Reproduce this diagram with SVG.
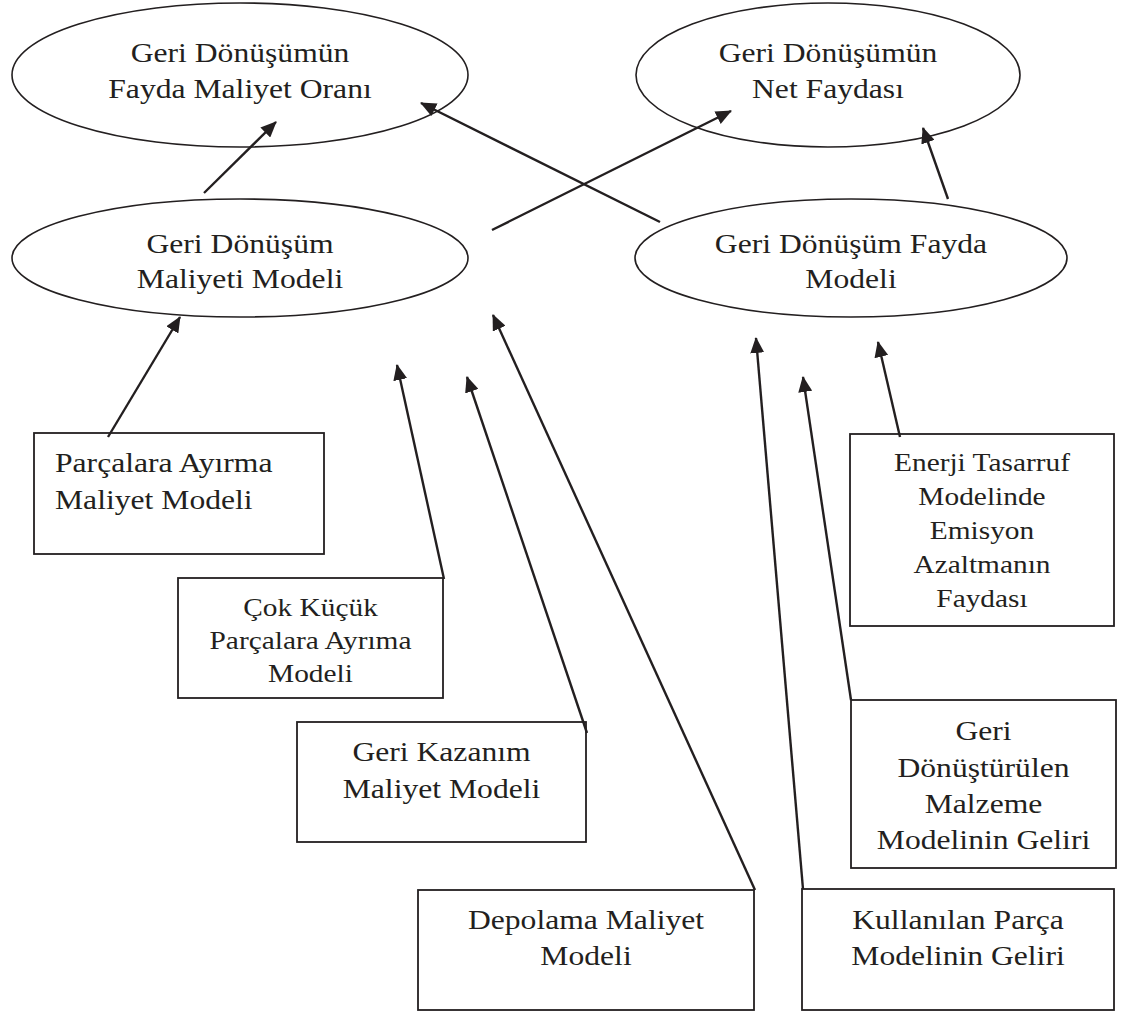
<svg xmlns="http://www.w3.org/2000/svg" width="1138" height="1014" viewBox="0 0 1138 1014">
<style>
.ell{fill:#fff;stroke:#231f20;stroke-width:1.6}
.box{fill:#fff;stroke:#231f20;stroke-width:1.8}
.t{font-family:"Liberation Serif","Times New Roman",serif;font-size:28px;fill:#231f20;text-anchor:middle}
.s{font-size:26px}
.l{text-anchor:start}
.c line{stroke:#231f20;stroke-width:2.4;marker-end:url(#ah)}
</style>
<defs>
<marker id="ah" markerUnits="userSpaceOnUse" markerWidth="16" markerHeight="14" viewBox="0 0 16 14" refX="15" refY="7" orient="auto">
<path d="M0,0 L16,7 L0,14 z" fill="#231f20"/>
</marker>
</defs>
<rect width="1138" height="1014" fill="#fff"/>

<g id="n-oran">
<ellipse class="ell" cx="240" cy="75" rx="228" ry="72"/>
<text class="t" transform="matrix(1.13 0 0 1 240 0)"><tspan x="0" y="62">Geri Dönüşümün</tspan><tspan x="0" y="98">Fayda Maliyet Oranı</tspan></text>
</g>
<g id="n-net">
<ellipse class="ell" cx="828" cy="75" rx="192" ry="72"/>
<text class="t" transform="matrix(1.13 0 0 1 828 0)"><tspan x="0" y="62">Geri Dönüşümün</tspan><tspan x="0" y="98">Net Faydası</tspan></text>
</g>
<g id="n-maliyet">
<ellipse class="ell" cx="240" cy="258" rx="228" ry="59"/>
<text class="t" transform="matrix(1.13 0 0 1 240 0)"><tspan x="0" y="253">Geri Dönüşüm</tspan><tspan x="0" y="288">Maliyeti Modeli</tspan></text>
</g>
<g id="n-fayda">
<ellipse class="ell" cx="851" cy="258" rx="216" ry="59"/>
<text class="t" transform="matrix(1.13 0 0 1 851 0)"><tspan x="0" y="253">Geri Dönüşüm Fayda</tspan><tspan x="0" y="288">Modeli</tspan></text>
</g>

<g id="n-parcalara">
<rect class="box" x="34" y="433" width="290" height="121"/>
<text class="t l" transform="matrix(1.13 0 0 1 55 0)"><tspan x="0" y="472">Parçalara Ayırma</tspan><tspan x="0" y="509">Maliyet Modeli</tspan></text>
</g>
<g id="n-cokkucuk">
<rect class="box" x="178" y="578" width="265" height="120"/>
<text class="t s" transform="matrix(1.13 0 0 1 310.5 0)"><tspan x="0" y="616">Çok Küçük</tspan><tspan x="0" y="649">Parçalara Ayrıma</tspan><tspan x="0" y="682">Modeli</tspan></text>
</g>
<g id="n-gerikazanim">
<rect class="box" x="297" y="722" width="289" height="120"/>
<text class="t" transform="matrix(1.13 0 0 1 441.5 0)"><tspan x="0" y="761">Geri Kazanım</tspan><tspan x="0" y="798">Maliyet Modeli</tspan></text>
</g>
<g id="n-depolama">
<rect class="box" x="418" y="890" width="336" height="120"/>
<text class="t" transform="matrix(1.13 0 0 1 586 0)"><tspan x="0" y="929">Depolama Maliyet</tspan><tspan x="0" y="965">Modeli</tspan></text>
</g>
<g id="n-kullanilan">
<rect class="box" x="802" y="889" width="312" height="121"/>
<text class="t" transform="matrix(1.13 0 0 1 958 0)"><tspan x="0" y="929">Kullanılan Parça</tspan><tspan x="0" y="965">Modelinin Geliri</tspan></text>
</g>
<g id="n-donusturulen">
<rect class="box" x="851" y="700" width="265" height="168"/>
<text class="t" transform="matrix(1.13 0 0 1 983.5 0)"><tspan x="0" y="740">Geri</tspan><tspan x="0" y="777">Dönüştürülen</tspan><tspan x="0" y="813">Malzeme</tspan><tspan x="0" y="849">Modelinin Geliri</tspan></text>
</g>
<g id="n-enerji">
<rect class="box" x="850" y="434" width="264" height="192"/>
<text class="t s" transform="matrix(1.13 0 0 1 982 0)"><tspan x="0" y="471">Enerji Tasarruf</tspan><tspan x="0" y="505">Modelinde</tspan><tspan x="0" y="539">Emisyon</tspan><tspan x="0" y="573">Azaltmanın</tspan><tspan x="0" y="607">Faydası</tspan></text>
</g>

<g id="connectors" class="c">
<line x1="204" y1="193" x2="276" y2="122"/>
<line x1="660" y1="222" x2="421" y2="103"/>
<line x1="492" y1="230" x2="731" y2="111"/>
<line x1="948" y1="199" x2="923" y2="128"/>
<line x1="108" y1="437" x2="180" y2="317"/>
<line x1="444" y1="579" x2="397" y2="365"/>
<line x1="587" y1="733" x2="467" y2="377"/>
<line x1="755" y1="890" x2="493" y2="315"/>
<line x1="803" y1="889" x2="756" y2="338"/>
<line x1="851" y1="700" x2="803" y2="377"/>
<line x1="900" y1="437" x2="878" y2="342"/>
</g>
</svg>
